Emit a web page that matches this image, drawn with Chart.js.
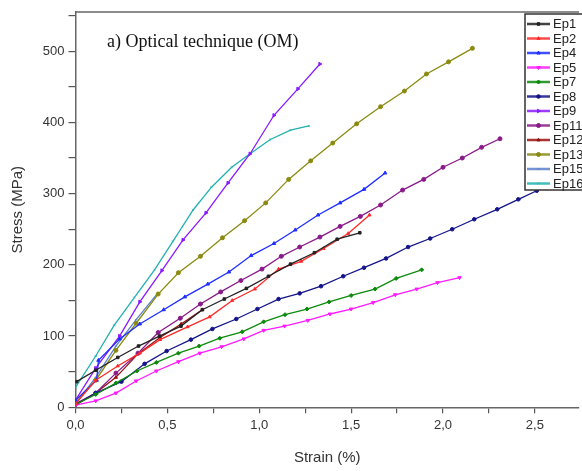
<!DOCTYPE html>
<html>
<head>
<meta charset="utf-8">
<script src="https://cdn.jsdelivr.net/npm/chart.js@4/dist/chart.umd.min.js"></script>
<style>
  html, body { margin: 0; padding: 0; background: #ffffff; }
  #wrap { width: 582px; height: 471px; position: relative; }
</style>
</head>
<body>
<div id="wrap"><canvas id="c" width="582" height="471"></canvas></div>
<script>
// Stress–strain curves, optical measurement: [strain %, stress MPa]
const ep1  = [[0.006,36],[0.11,52],[0.23,70],[0.343,86],[0.457,100],[0.574,114],[0.69,137],[0.81,152],[0.93,167],[1.05,184],[1.17,201],[1.30,217],[1.424,236],[1.547,245]];
const ep2  = [[0,5],[0.11,38],[0.23,58],[0.35,76],[0.46,95],[0.61,113],[0.73,127],[0.853,150],[0.976,166],[1.105,194],[1.228,205],[1.35,223],[1.484,244],[1.60,270]];
const ep4  = [[0,10],[0.115,38],[0.125,66],[0.24,96],[0.35,117],[0.48,137],[0.595,155],[0.72,173],[0.835,190],[0.956,213],[1.08,230],[1.196,249],[1.32,270],[1.44,287],[1.57,306],[1.685,329]];
const ep5  = [[0,3],[0.11,9],[0.22,20],[0.33,37],[0.44,51],[0.56,64],[0.677,76],[0.795,85],[0.916,96],[1.024,108],[1.138,114],[1.264,122],[1.385,131],[1.50,138],[1.62,147],[1.74,158],[1.857,166],[1.97,175],[2.09,182]];
const ep7  = [[0,4],[0.11,18],[0.22,34],[0.334,51],[0.44,63],[0.56,76],[0.673,86],[0.785,97],[0.907,106],[1.024,120],[1.14,130],[1.26,138],[1.38,148],[1.50,157],[1.63,166],[1.745,181],[1.884,193]];
const ep8  = [[0,4],[0.11,20],[0.25,36],[0.376,61],[0.496,79],[0.628,95],[0.745,110],[0.875,124],[0.99,138],[1.105,152],[1.22,160],[1.336,170],[1.457,184],[1.57,196],[1.69,209],[1.81,225],[1.93,237],[2.05,250],[2.17,264],[2.295,278],[2.41,292],[2.51,304],[2.63,318]];
const ep9  = [[0,10],[0.11,55],[0.24,100],[0.35,148],[0.47,192],[0.585,235],[0.71,273],[0.83,315],[0.95,356],[1.08,410],[1.21,447],[1.33,482]];
const ep11 = [[0,5],[0.11,20],[0.22,48],[0.34,76],[0.45,105],[0.57,125],[0.68,145],[0.79,162],[0.90,178],[1.015,194],[1.12,212],[1.22,225],[1.33,239],[1.44,254],[1.55,268],[1.66,284],[1.78,305],[1.895,320],[2.0,337],[2.105,350],[2.21,365],[2.31,377]];
const ep12 = [[0,3],[0.11,20],[0.22,42],[0.34,75],[0.46,98],[0.575,117],[0.69,137]];
const ep13 = [[0,6],[0.11,38],[0.22,80],[0.33,118],[0.45,159],[0.56,189],[0.68,212],[0.80,238],[0.92,262],[1.035,287],[1.16,320],[1.28,346],[1.40,371],[1.53,398],[1.66,422],[1.79,444],[1.91,468],[2.03,485],[2.16,504]];
const ep15 = [[0,5],[0.11,42],[0.22,86],[0.33,123],[0.45,161]];
const ep16 = [[0,28],[0.11,72],[0.21,115],[0.32,154],[0.43,193],[0.53,233],[0.64,277],[0.74,309],[0.85,337],[0.95,356],[1.06,376],[1.17,389],[1.27,395]];

const seriesNames = ['Ep1','Ep2','Ep4','Ep5','Ep7','Ep8','Ep9','Ep11','Ep12','Ep13','Ep15','Ep16'];
const seriesData  = [ep1, ep2, ep4, ep5, ep7, ep8, ep9, ep11, ep12, ep13, ep15, ep16];
const seriesColors = ['#222222','#ff2a2a','#1f2fff','#ff1aff','#0c8a0c','#14148a','#8a1aff','#8a1a8a','#9a1010','#8a8a10','#5a80cc','#22b0b0'];
const markerStyles = ['rect','triangle','triangle','triangle','rectRot','circle','triangle','circle','triangle','circle','line','crossRot'];
const markerRotation = [0,0,0,180,0,0,90,0,0,0,0,0];
const markerRadius = [1.8,1.8,2,2,2,1.8,2,2,1.8,2,1.2,1.2];

const xTickLabels = ['0,0','0,5','1,0','1,5','2,0','2,5'];
const yTickLabels = ['0','100','200','300','400','500'];

const FONT = "'Liberation Sans', Arial, sans-serif";

const datasets = seriesNames.map((name, i) => ({
  label: name,
  data: seriesData[i].map(p => ({ x: p[0], y: p[1] })),
  borderColor: seriesColors[i],
  backgroundColor: seriesColors[i],
  borderWidth: 1.3,
  pointStyle: markerStyles[i],
  rotation: markerRotation[i],
  pointRadius: markerRadius[i],
  pointBorderWidth: 1,
  pointHoverRadius: markerRadius[i],
  tension: 0,
  fill: false
}));

// Top frame line, panel caption and boxed legend
const decorations = {
  id: 'decorations',
  afterDatasetsDraw(chart) {
    const { ctx, chartArea } = chart;
    ctx.save();
    ctx.strokeStyle = '#666666';
    ctx.lineWidth = 1.5;
    ctx.beginPath();
    ctx.moveTo(chartArea.left, chartArea.top);
    ctx.lineTo(chartArea.right, chartArea.top);
    ctx.stroke();

    ctx.fillStyle = '#111111';
    ctx.font = "18px 'Liberation Serif', 'Times New Roman', serif";
    ctx.textBaseline = 'middle';
    ctx.textAlign = 'left';
    ctx.fillText('a) Optical technique (OM)', 107, 42);
    ctx.restore();
  },
  afterDraw(chart) {
    const { ctx } = chart;
    const bx = 525, by = 14, bw = 60, bh = 176;
    ctx.save();
    ctx.fillStyle = '#ffffff';
    ctx.fillRect(bx, by, bw, bh);
    ctx.strokeStyle = '#333333';
    ctx.lineWidth = 1.5;
    ctx.strokeRect(bx, by, bw, bh);
    chart.data.datasets.forEach((ds, i) => {
      const y = 24 + i * 14.5;
      ctx.strokeStyle = ds.borderColor;
      ctx.lineWidth = 2.5;
      ctx.globalAlpha = 0.85;
      ctx.beginPath();
      ctx.moveTo(527, y);
      ctx.lineTo(550, y);
      ctx.stroke();
      ctx.globalAlpha = 1;
      ctx.fillStyle = ds.borderColor;
      ctx.strokeStyle = ds.borderColor;
      ctx.lineWidth = 1;
      Chart.helpers.drawPoint(ctx, {
        pointStyle: ds.pointStyle, rotation: ds.rotation, radius: ds.pointRadius,
        borderWidth: 1
      }, 538.5, y);
      ctx.fillStyle = '#222222';
      ctx.font = '13px ' + FONT;
      ctx.textAlign = 'left';
      ctx.textBaseline = 'middle';
      ctx.fillText(ds.label, 553, y + 0.5);
    });
    ctx.restore();
  }
};

new Chart(document.getElementById('c'), {
  type: 'line',
  data: { datasets },
  options: {
    responsive: false,
    animation: false,
    events: [],
    layout: { padding: { top: 12, right: 0, left: 0, bottom: 0 } },
    plugins: { legend: { display: false }, tooltip: { enabled: false } },
    scales: {
      x: {
        type: 'linear',
        min: 0,
        max: 2.74,
        border: { display: true, color: '#666666', width: 1.5 },
        grid: { display: true, drawOnChartArea: false, drawTicks: true, tickLength: 6, color: '#555555', lineWidth: 1.2 },
        ticks: {
          stepSize: 0.25,
          maxTicksLimit: 30,
          includeBounds: false,
          padding: 4,
          color: '#333333',
          font: { family: FONT, size: 13 },
          autoSkip: false,
          maxRotation: 0,
          callback: (v) => {
            const k = Math.round(v / 0.5);
            return Math.abs(v - k * 0.5) < 1e-6 ? xTickLabels[k] : '';
          }
        },
        title: { display: true, text: 'Strain (%)', color: '#333333', font: { family: FONT, size: 15 }, padding: { top: 0, bottom: 4 } },
        afterFit: (s) => { s.height = 471 - 407.3; }
      },
      y: {
        type: 'linear',
        min: 0,
        max: 555,
        border: { display: true, color: '#666666', width: 1.5 },
        grid: { display: true, drawOnChartArea: false, drawTicks: true, tickLength: 7, color: '#555555', lineWidth: 1.2 },
        ticks: {
          stepSize: 50,
          maxTicksLimit: 30,
          includeBounds: false,
          padding: 4,
          color: '#333333',
          font: { family: FONT, size: 13 },
          autoSkip: false,
          callback: (v) => {
            const k = Math.round(v / 100);
            return Math.abs(v - k * 100) < 1e-6 ? yTickLabels[k] : '';
          }
        },
        title: { display: true, text: 'Stress (MPa)', color: '#333333', font: { family: FONT, size: 15 }, padding: { top: 9, bottom: 0 } },
        afterFit: (s) => { s.width = 75.5; }
      }
    }
  },
  plugins: [decorations]
});
</script>
</body>
</html>
